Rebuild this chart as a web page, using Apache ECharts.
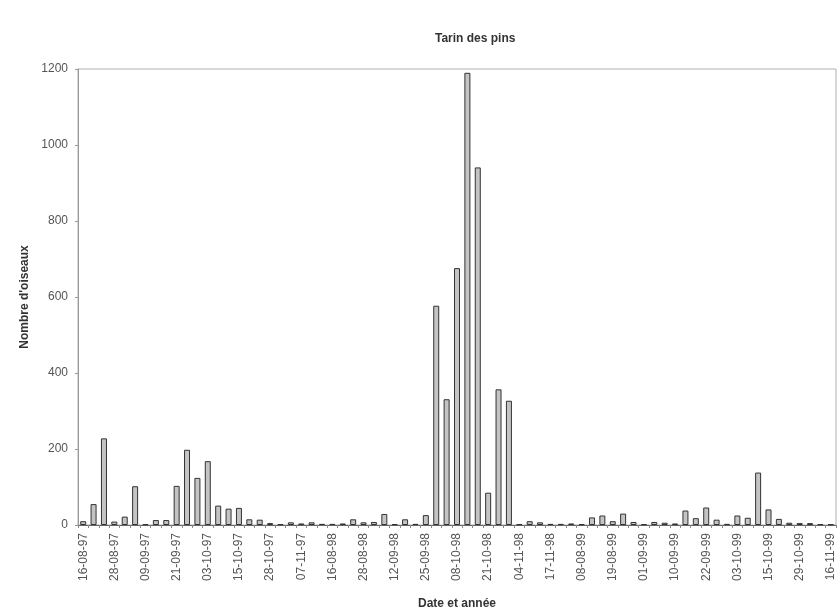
<!DOCTYPE html>
<html>
<head>
<meta charset="utf-8">
<script src="https://cdn.jsdelivr.net/npm/echarts@6/dist/echarts.min.js"></script>
<style>
html,body{margin:0;padding:0;background:#fff;}
#chart{width:838px;height:614px;}
</style>
</head>
<body>
<div id="chart"></div>
<script>
// Tick labels shown on the x axis (one every third bar)
const tickLabels = [
  '16-08-97','28-08-97','09-09-97','21-09-97','03-10-97','15-10-97','28-10-97','07-11-97',
  '16-08-98','28-08-98','12-09-98','25-09-98','08-10-98','21-10-98','04-11-98','17-11-98',
  '08-08-99','19-08-99','01-09-99','10-09-99','22-09-99','03-10-99','15-10-99','29-10-99','16-11-99'
];
// Number of birds per counting date
const birdCounts = [
  10, 55, 228, 9, 22, 102, 2, 13, 13, 103,
  198, 124, 168, 51, 43, 45, 15, 14, 5, 2,
  7, 4, 7, 3, 3, 4, 15, 7, 8, 29,
  2, 15, 3, 26, 577, 331, 676, 1190, 941, 85,
  357, 327, 2, 10, 7, 3, 3, 4, 2, 20,
  25, 10, 30, 8, 2, 8, 6, 4, 38, 18,
  46, 14, 3, 25, 19, 138, 41, 16, 6, 5,
  5, 2, 2
];
const labelStep = 3;
const categories = birdCounts.map((v, i) => (i % labelStep === 0 && tickLabels[i / labelStep]) ? tickLabels[i / labelStep] : '');

const FONT = '"Liberation Sans", Arial, sans-serif';
const chart = echarts.init(document.getElementById('chart'), null, {renderer: 'canvas'});
chart.setOption({
  animation: false,
  backgroundColor: '#ffffff',
  title: {
    text: 'Tarin des pins',
    left: 430,
    top: 28,
    textStyle: {fontFamily: FONT, fontSize: 12, fontWeight: 'bold', color: '#333'}
  },
  grid: {
    left: 78, right: 2, top: 69, bottom: 89,
    outerBoundsMode: 'none',
    containLabel: false,
    show: true, borderColor: '#b0b0b0', borderWidth: 1, backgroundColor: 'transparent'
  },
  xAxis: {
    type: 'category',
    data: categories,
    name: 'Date et année',
    nameLocation: 'middle',
    nameGap: 73,
    nameTextStyle: {fontFamily: FONT, fontSize: 12, fontWeight: 'bold', color: '#333', verticalAlign: 'top'},
    axisLine: {show: true, lineStyle: {color: '#666', width: 1}},
    axisTick: {show: true, interval: 0, length: 3, lineStyle: {color: '#888'}},
    axisLabel: {
      interval: 0, rotate: 90, margin: 8,
      fontFamily: FONT, fontSize: 12, color: '#555'
    },
    splitLine: {show: false}
  },
  yAxis: {
    type: 'value',
    min: 0, max: 1200, interval: 200,
    name: "Nombre d'oiseaux",
    nameLocation: 'middle',
    nameGap: 42,
    nameTextStyle: {fontFamily: FONT, fontSize: 12, fontWeight: 'bold', color: '#333'},
    axisLine: {show: true, lineStyle: {color: '#999'}},
    axisTick: {show: true, length: 3, lineStyle: {color: '#999'}},
    axisLabel: {margin: 10, fontFamily: FONT, fontSize: 12, color: '#555', formatter: v => String(v)},
    splitLine: {show: false}
  },
  series: [{
    type: 'bar',
    data: birdCounts,
    barWidth: 6,
    itemStyle: {color: '#c4c4c4', borderColor: '#333', borderWidth: 1}
  }]
});
</script>
</body>
</html>
